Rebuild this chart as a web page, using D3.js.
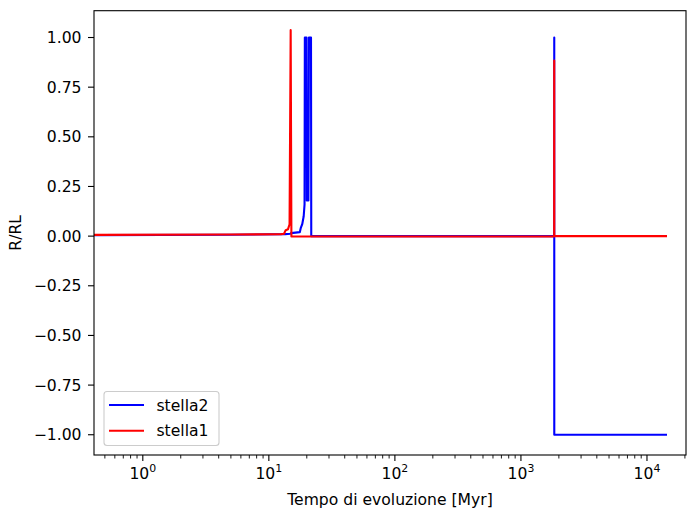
<!DOCTYPE html>
<html>
<head>
<meta charset="utf-8">
<script src="https://cdn.jsdelivr.net/npm/d3@7"></script>
<style>
  html, body { margin: 0; padding: 0; background: #fff; }
  svg { display: block; font-family: "DejaVu Sans", sans-serif; }
</style>
</head>
<body>
<svg id="chart" width="688" height="515"></svg>
<script>
// Time in Myr (log axis) and R/RL for each star
const stella2Time = [0.3, 5, 13.5, 14.8, 15.0, 17.6, 17.9, 18.4, 18.9, 19.2, 19.3, 19.9, 20.0, 20.6, 20.8, 21.6, 21.7, 100, 1000, 1836, 1838, 1839, 14150];
const stella2Val  = [0.005, 0.007, 0.010, 0.012, 0.015, 0.02, 0.04, 0.06, 0.10, 0.16, 1.0, 1.0, 0.18, 0.18, 1.0, 1.0, 0.0, 0.0, 0.0, 0.0, 1.0, -1.0, -1.0];

const stella1Time = [0.3, 5, 12.5, 13.2, 13.6, 14.2, 14.6, 14.9, 15.1, 100, 1000, 1835, 1837, 1839, 14150];
const stella1Val  = [0.006, 0.008, 0.010, 0.012, 0.03, 0.035, 0.06, 1.037, -0.002, -0.002, -0.002, -0.002, 0.884, 0.0, 0.0];

const seriesNames = ["stella2", "stella1"];
const seriesColors = ["#0000ff", "#ff0000"];

const yTicks = [-1.0, -0.75, -0.5, -0.25, 0.0, 0.25, 0.5, 0.75, 1.0];
const xMajorTicks = [1, 10, 100, 1000, 10000];
const xExponents = ["0", "1", "2", "3", "4"];

const xLabel = "Tempo di evoluzione [Myr]";
const yLabel = "R/RL";

const svg = d3.select("#chart");
const plotLeft = 94, plotRight = 686, plotTop = 10.7, plotBottom = 455;

const x = d3.scaleLog().domain([0.41, 20400]).range([plotLeft, plotRight]);
const y = d3.scaleLinear().domain([-1.102, 1.135]).range([plotBottom, plotTop]);

svg.append("defs").append("clipPath").attr("id", "plotclip")
  .append("rect").attr("x", plotLeft).attr("y", plotTop)
  .attr("width", plotRight - plotLeft).attr("height", plotBottom - plotTop);

const tickColor = "#000";
const fontSize = 15.6;

// y ticks and labels
const yAxis = svg.append("g");
yTicks.forEach(v => {
  const py = y(v);
  yAxis.append("line").attr("x1", plotLeft - 6).attr("x2", plotLeft)
    .attr("y1", py).attr("y2", py).attr("stroke", tickColor).attr("stroke-width", 1.1);
  yAxis.append("text").attr("x", plotLeft - 12.5).attr("y", py)
    .attr("dy", "0.36em").attr("text-anchor", "end")
    .attr("font-size", fontSize).attr("fill", "#000")
    .text(d3.format(".2f")(v).replace("-", "\u2212"));
});

// x minor ticks
const xAxis = svg.append("g");
const [d0, d1] = x.domain();
for (let e = -1; e <= 4; e++) {
  for (let m = 2; m <= 9; m++) {
    const v = m * Math.pow(10, e);
    if (v < d0 || v > d1) continue;
    xAxis.append("line").attr("x1", x(v)).attr("x2", x(v))
      .attr("y1", plotBottom).attr("y2", plotBottom + 3.5)
      .attr("stroke", tickColor).attr("stroke-width", 0.9);
  }
}
// x major ticks and labels
xMajorTicks.forEach((v, i) => {
  const px = x(v);
  xAxis.append("line").attr("x1", px).attr("x2", px)
    .attr("y1", plotBottom).attr("y2", plotBottom + 6)
    .attr("stroke", tickColor).attr("stroke-width", 1.1);
  const t = xAxis.append("text").attr("x", px).attr("y", plotBottom + 23.5)
    .attr("text-anchor", "middle").attr("font-size", fontSize).attr("fill", "#000");
  t.append("tspan").text("10");
  t.append("tspan").attr("dy", -7).attr("font-size", fontSize * 0.7).text(xExponents[i]);
});

// axis titles
svg.append("text").attr("x", (plotLeft + plotRight) / 2).attr("y", plotBottom + 50)
  .attr("text-anchor", "middle").attr("font-size", fontSize).attr("fill", "#000")
  .text(xLabel);
svg.append("text")
  .attr("transform", `translate(21,${(plotTop + plotBottom) / 2}) rotate(-90)`)
  .attr("text-anchor", "middle").attr("font-size", fontSize).attr("fill", "#000")
  .text(yLabel);

// series lines
const line = d3.line().x(d => x(d[0])).y(d => y(d[1]));
const plot = svg.append("g").attr("clip-path", "url(#plotclip)");
const seriesData = [
  d3.zip(stella2Time, stella2Val),
  d3.zip(stella1Time, stella1Val)
];
seriesData.forEach((data, i) => {
  plot.append("path").datum(data)
    .attr("d", line).attr("fill", "none")
    .attr("stroke", seriesColors[i]).attr("stroke-width", 2.1)
    .attr("stroke-linejoin", "round").attr("stroke-linecap", "square");
});

// frame
svg.append("rect").attr("x", plotLeft).attr("y", plotTop)
  .attr("width", plotRight - plotLeft).attr("height", plotBottom - plotTop)
  .attr("fill", "none").attr("stroke", "#000").attr("stroke-width", 1.1);

// legend
const lg = svg.append("g");
lg.append("rect").attr("x", 104).attr("y", 391.5).attr("width", 115).attr("height", 54)
  .attr("rx", 3).attr("fill", "#fff").attr("fill-opacity", 0.8)
  .attr("stroke", "#cccccc").attr("stroke-width", 1.1);
seriesNames.forEach((name, i) => {
  const ly = 405 + i * 25.7;
  lg.append("line").attr("x1", 109).attr("x2", 144).attr("y1", ly).attr("y2", ly)
    .attr("stroke", seriesColors[i]).attr("stroke-width", 2.1);
  lg.append("text").attr("x", 156.5).attr("y", ly).attr("dy", "0.36em")
    .attr("font-size", fontSize).attr("fill", "#000").text(name);
});
</script>
</body>
</html>
